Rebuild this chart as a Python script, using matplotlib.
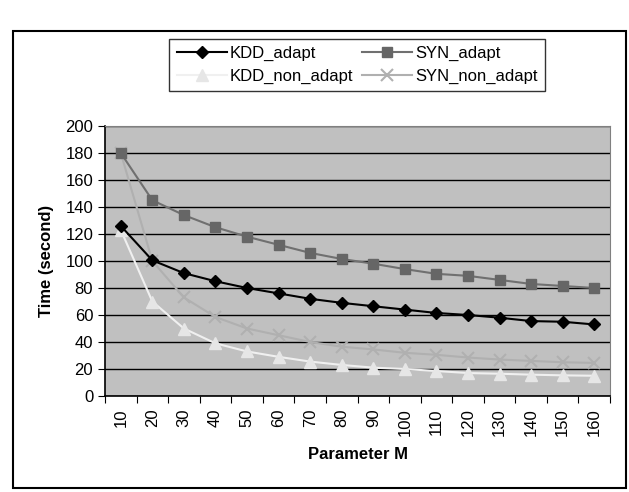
import matplotlib.pyplot as plt
import matplotlib.patches as patches
import numpy as np

plt.rcParams['font.family'] = ['Liberation Sans', 'DejaVu Sans']
plt.rcParams['font.size'] = 12

# data
params = [10, 20, 30, 40, 50, 60, 70, 80, 90, 100, 110, 120, 130, 140, 150, 160]
kdd_adapt = [126, 100.5, 91, 85, 80, 76, 72, 69, 66.5, 64, 61.5, 60, 58, 55.5, 55, 53]
syn_adapt = [180, 145, 134, 125, 118, 112, 106, 101.5, 98, 94, 90.5, 89, 86, 83, 81.5, 80]
kdd_non_adapt = [123, 70, 50, 39, 33, 29, 25.5, 23, 21, 20, 18.5, 17, 16.5, 15.8, 15.3, 15]
syn_non_adapt = [180, 100, 73, 58.5, 50, 45, 40, 36.5, 34.5, 32, 30.5, 28.5, 27, 26, 25, 24.5]

fig = plt.figure(figsize=(6.29, 4.92), dpi=100)
ax = fig.add_axes([105/629, 1 - 396/492, (610 - 105)/629, (396 - 126)/492])

# outer frame around the whole chart
fig.patches.append(patches.Rectangle((13/629, 4/492), 613/629, 457/492,
                                     transform=fig.transFigure, fill=False,
                                     edgecolor='black', linewidth=1.5))

ax.set_facecolor('#c0c0c0')
x = np.arange(len(params))

l1, = ax.plot(x, kdd_adapt, color='black', marker='D', markersize=6, lw=1.5,
              label='KDD_adapt', zorder=5)
l2, = ax.plot(x, syn_adapt, color='#707070', marker='s', markersize=7, lw=1.5,
              markerfacecolor='#666666', markeredgecolor='#666666', label='SYN_adapt', zorder=4)
l3, = ax.plot(x, kdd_non_adapt, color='#f0f0f0', marker='^', markersize=8, lw=1.5,
              markerfacecolor='#e6e6e6', markeredgecolor='#e6e6e6', label='KDD_non_adapt', zorder=3)
l4, = ax.plot(x, syn_non_adapt, color='#b0b0b0', marker='x', markersize=8, lw=1.5,
              markeredgewidth=1.5, label='SYN_non_adapt', zorder=3)

ax.set_ylim(0, 200)
ax.set_yticks(range(0, 201, 20))
ax.yaxis.grid(True, color='black', lw=1)
ax.set_axisbelow(True)

ax.set_xlim(-0.5, len(params) - 0.5)
ax.set_xticks(np.arange(-0.5, len(params), 1))
ax.set_xticklabels([])
ax.set_xticks(x, minor=True)
ax.set_xticklabels([str(p) for p in params], minor=True, rotation=90)
ax.tick_params(axis='x', which='minor', length=0, pad=9)
ax.tick_params(axis='both', which='major', length=5, direction='out', color='black')

for s in ['top', 'right']:
    ax.spines[s].set_color('#808080')
for s in ['left', 'bottom']:
    ax.spines[s].set_color('black')
    ax.spines[s].set_linewidth(1.2)

ax.set_xlabel('Parameter M', fontweight='bold', labelpad=8)
ax.set_ylabel('Time (second)', fontweight='bold', labelpad=8)

# legend is filled row by row in the reference
leg = ax.legend([l1, l3, l2, l4], [l.get_label() for l in (l1, l3, l2, l4)],
                loc='center', ncol=2, bbox_to_anchor=(357/629, 1 - 65/492),
                bbox_transform=fig.transFigure, frameon=True, fancybox=False,
                edgecolor='black', handlelength=3, columnspacing=0.5,
                handletextpad=0.2, labelspacing=0.45, borderpad=0.45)
leg.get_frame().set_linewidth(1)

fig.savefig('out.png', dpi=100)
